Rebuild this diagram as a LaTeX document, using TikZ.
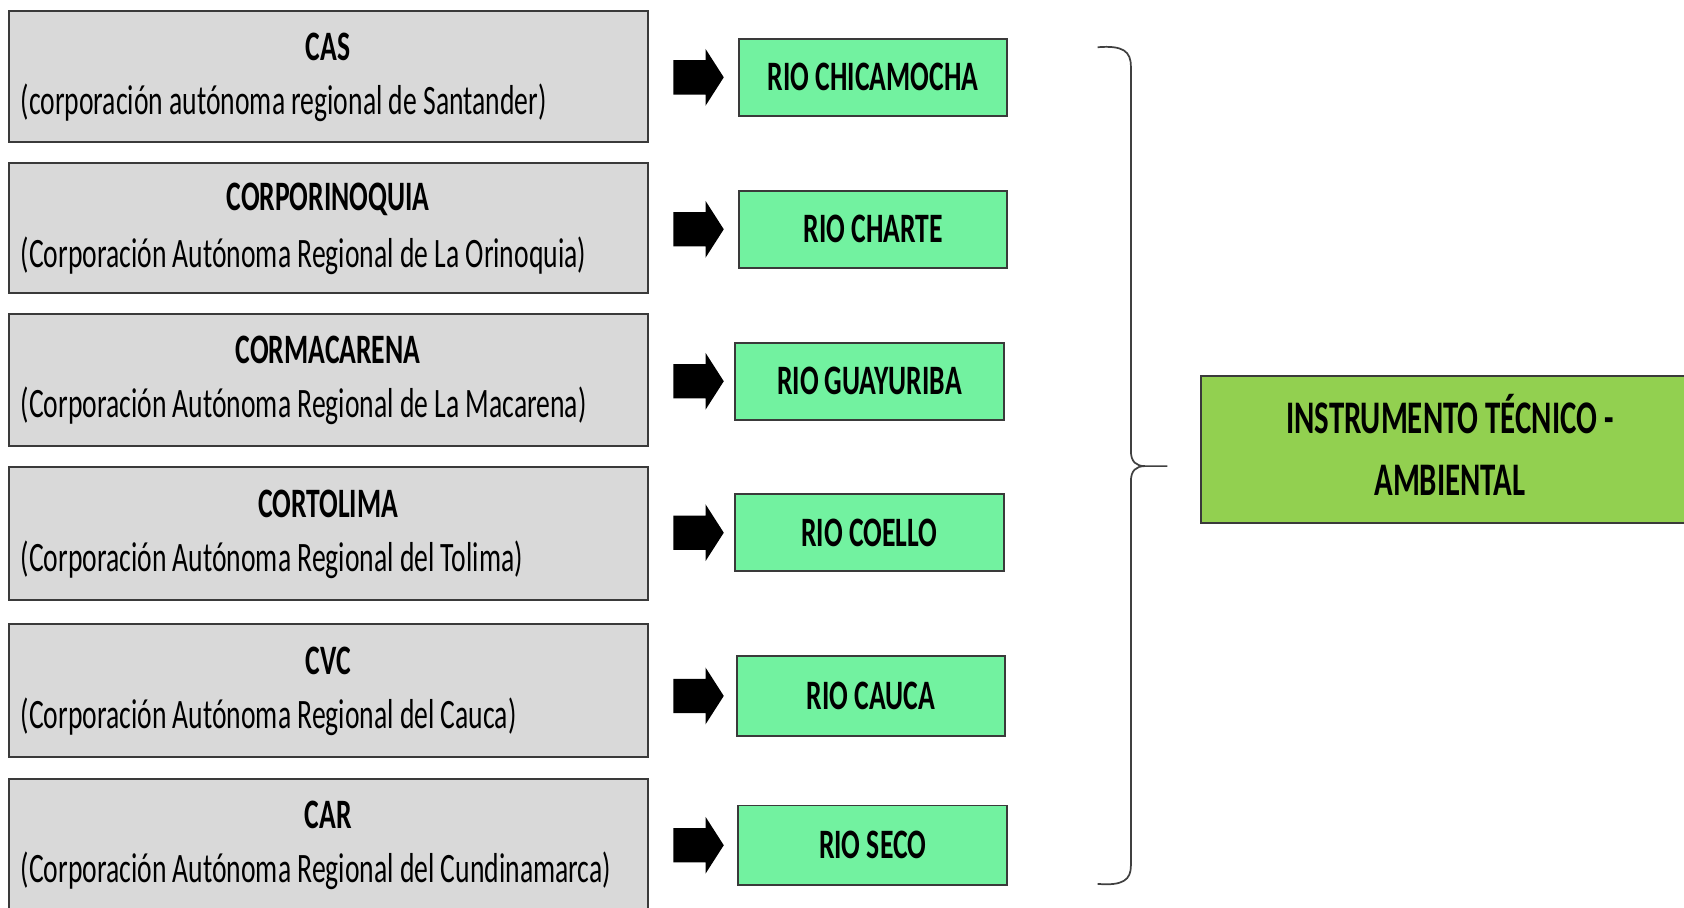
\documentclass[tikz,border=0pt]{standalone}
\usepackage{fontspec}
\setmainfont{Carlito}[FakeStretch=0.66]
\usetikzlibrary{calc}
\definecolor{grayfill}{HTML}{D9D9D9}
\definecolor{riogreen}{HTML}{72F2A0}
\definecolor{instgreen}{HTML}{92D050}
\definecolor{edge}{HTML}{3A3A3A}
\definecolor{bracegray}{HTML}{404040}
\begin{document}
\begin{tikzpicture}[x=1pt,y=-1pt,
  corp/.style={draw=edge, line width=1.8pt, fill=grayfill, minimum width=595pt, inner sep=0pt},
  rio/.style={draw=edge, line width=1.8pt, fill=riogreen, minimum width=250pt, minimum height=72pt, inner sep=0pt, font=\fontsize{39}{44}\selectfont\bfseries},
  inst/.style={draw=edge, line width=1.8pt, fill=instgreen, minimum width=464pt, minimum height=137pt, inner sep=0pt},
  insttext/.style={inner sep=0pt, align=center, font=\fontsize{43.5}{58}\selectfont\bfseries},
  ttl/.style={font=\fontsize{39}{44}\selectfont\bfseries, inner sep=0pt},
  sub/.style={font=\fontsize{39}{44}\selectfont, inner sep=0pt, anchor=west},
  brace/.style={draw=bracegray, line width=1.6pt}
]
\useasboundingbox (0,0) rectangle (1568,845);
\clip (0,0) rectangle (1568,845);

% corporation boxes
\node[corp, minimum height=122pt] (g1) at (305.5,71) {};
\node[corp, minimum height=121pt] (g2) at (305.5,212.5) {};
\node[corp, minimum height=123pt] (g3) at (305.5,353.5) {};
\node[corp, minimum height=124pt] (g4) at (305.5,497) {};
\node[corp, minimum height=124pt] (g5) at (305.5,643) {};
\node[corp, minimum height=145pt] (g6) at (305.5,797.5) {};

\node[ttl] (t1) at ($(g1.north)+(0,35)$) {CAS};
\node[ttl] (t2) at ($(g2.north)+(0,35)$) {CORPORINOQUIA};
\node[ttl] (t3) at ($(g3.north)+(0,35)$) {CORMACARENA};
\node[ttl] (t4) at ($(g4.north)+(0,35)$) {CORTOLIMA};
\node[ttl] (t5) at ($(g5.north)+(0,35)$) {CVC};
\node[ttl] (t6) at ($(g6.north)+(0,35)$) {CAR};

\node[sub] (s1) at ($(g1.north west)+(12,87)$) {(corporación autónoma regional de Santander)};
\node[sub] (s2) at ($(g2.north west)+(12,87)$) {(Corporación Autónoma Regional de La Orinoquia)};
\node[sub] (s3) at ($(g3.north west)+(12,87)$) {(Corporación Autónoma Regional de La Macarena)};
\node[sub] (s4) at ($(g4.north west)+(12,87)$) {(Corporación Autónoma Regional del Tolima)};
\node[sub] (s5) at ($(g5.north west)+(12,87)$) {(Corporación Autónoma Regional del Cauca)};
\node[sub] (s6) at ($(g6.north west)+(12,87)$) {(Corporación Autónoma Regional del Cundinamarca)};

% river boxes
\node[rio] (r1) at (813,72) {RIO CHICAMOCHA};
\node[rio] (r2) at (813,213.5) {RIO CHARTE};
\node[rio] (r3) at (809.5,355) {RIO GUAYURIBA};
\node[rio] (r4) at (809.5,496) {RIO COELLO};
\node[rio, minimum height=74pt] (r5) at (811,648) {RIO CAUCA};
\node[rio, minimum height=74pt] (r6) at (812.5,787) {RIO SECO};

% block arrows
\foreach \g/\r in {g1/r1,g2/r2,g3/r3,g4/r4,g5/r5,g6/r6}{
  \fill[black] ($(\r.west -| \g.east)+(23,-16)$) -- ++(30,0) -- ++(0,-10.5)
     -- ++(17,26.5) -- ++(-17,26.5) -- ++(0,-10.5) -- ++(-30,0) -- cycle;
}

% result box
\node[inst] (ins) at (1350,418.5) {};
\node[insttext] (inslabel) at ($(ins.center)+(0,-4)$) {INSTRUMENTO TÉCNICO -\\AMBIENTAL};

% brace
\coordinate (btop) at (1022,44);
\coordinate (bbot) at (1022,823);
\coordinate (btip) at (1087,434);
\draw[brace] (btop) .. controls (1046,42) and (1053,48) .. (1053,62)
  -- (1053,420) .. controls (1053,430) and (1058,434) .. (1066,434) -- (btip);
\draw[brace] (bbot) .. controls (1046,825) and (1053,819) .. (1053,806)
  -- (1053,448) .. controls (1053,438) and (1058,434) .. (1066,434);
\end{tikzpicture}
\end{document}
